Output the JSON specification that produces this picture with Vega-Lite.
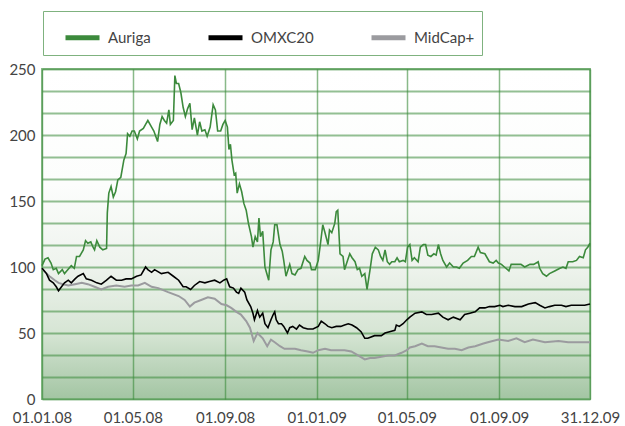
{
"$schema": "https://vega.github.io/schema/vega-lite/v6.json",
"width": 548, "height": 330,
"autosize": "none",
"padding": {"left": 42, "top": 69, "right": 35, "bottom": 27},
"background": "white",
"view": {"fill": {"gradient": "linear", "x1": 0, "y1": 0, "x2": 0, "y2": 1, "stops": [{"offset": 0, "color": "#ffffff"}, {"offset": 0.35, "color": "#fcfdfc"}, {"offset": 0.6, "color": "#eef3ed"}, {"offset": 0.8, "color": "#d6e5d4"}, {"offset": 1, "color": "#a3c5a3"}]}, "stroke": "#8cbc8c", "strokeWidth": 2},
"config": {"font": "Lato"},
"datasets": {
"auriga": [
{"d":"2008-01-01","v":101},{"d":"2008-01-05","v":106},{"d":"2008-01-09","v":107},{"d":"2008-01-13","v":103},{"d":"2008-01-16","v":98},{"d":"2008-01-20","v":99},{"d":"2008-01-23","v":95},{"d":"2008-01-28","v":98},{"d":"2008-01-31","v":95},{"d":"2008-02-06","v":99},{"d":"2008-02-09","v":101},{"d":"2008-02-13","v":99},{"d":"2008-02-16","v":108},{"d":"2008-02-20","v":108},{"d":"2008-02-25","v":113},{"d":"2008-02-28","v":120},{"d":"2008-03-02","v":118},{"d":"2008-03-06","v":119},{"d":"2008-03-09","v":115},{"d":"2008-03-11","v":113},{"d":"2008-03-14","v":120},{"d":"2008-03-18","v":115},{"d":"2008-03-22","v":113},{"d":"2008-03-27","v":114},{"d":"2008-03-28","v":141},{"d":"2008-03-30","v":156},{"d":"2008-04-02","v":161},{"d":"2008-04-05","v":153},{"d":"2008-04-08","v":157},{"d":"2008-04-11","v":166},{"d":"2008-04-15","v":168},{"d":"2008-04-19","v":181},{"d":"2008-04-22","v":186},{"d":"2008-04-24","v":201},{"d":"2008-04-27","v":199},{"d":"2008-04-30","v":203},{"d":"2008-05-03","v":203},{"d":"2008-05-07","v":197},{"d":"2008-05-10","v":203},{"d":"2008-05-15","v":205},{"d":"2008-05-18","v":208},{"d":"2008-05-21","v":211},{"d":"2008-05-26","v":206},{"d":"2008-05-29","v":203},{"d":"2008-06-03","v":195},{"d":"2008-06-06","v":208},{"d":"2008-06-09","v":214},{"d":"2008-06-12","v":211},{"d":"2008-06-15","v":209},{"d":"2008-06-18","v":219},{"d":"2008-06-20","v":208},{"d":"2008-06-24","v":211},{"d":"2008-06-26","v":245},{"d":"2008-06-28","v":239},{"d":"2008-07-01","v":239},{"d":"2008-07-04","v":232},{"d":"2008-07-07","v":221},{"d":"2008-07-10","v":214},{"d":"2008-07-13","v":220},{"d":"2008-07-16","v":224},{"d":"2008-07-19","v":204},{"d":"2008-07-22","v":213},{"d":"2008-07-26","v":200},{"d":"2008-07-29","v":210},{"d":"2008-08-01","v":203},{"d":"2008-08-05","v":204},{"d":"2008-08-08","v":199},{"d":"2008-08-12","v":206},{"d":"2008-08-16","v":223},{"d":"2008-08-19","v":219},{"d":"2008-08-22","v":203},{"d":"2008-08-26","v":203},{"d":"2008-08-29","v":208},{"d":"2008-09-01","v":211},{"d":"2008-09-04","v":206},{"d":"2008-09-06","v":189},{"d":"2008-09-08","v":193},{"d":"2008-09-10","v":181},{"d":"2008-09-13","v":170},{"d":"2008-09-15","v":171},{"d":"2008-09-17","v":156},{"d":"2008-09-20","v":163},{"d":"2008-09-23","v":157},{"d":"2008-09-26","v":148},{"d":"2008-09-29","v":143},{"d":"2008-10-02","v":133},{"d":"2008-10-06","v":123},{"d":"2008-10-08","v":115},{"d":"2008-10-11","v":123},{"d":"2008-10-14","v":119},{"d":"2008-10-16","v":137},{"d":"2008-10-18","v":123},{"d":"2008-10-21","v":127},{"d":"2008-10-24","v":100},{"d":"2008-10-29","v":90},{"d":"2008-11-01","v":113},{"d":"2008-11-04","v":119},{"d":"2008-11-06","v":132},{"d":"2008-11-09","v":132},{"d":"2008-11-13","v":117},{"d":"2008-11-16","v":112},{"d":"2008-11-18","v":105},{"d":"2008-11-21","v":93},{"d":"2008-11-26","v":102},{"d":"2008-11-29","v":95},{"d":"2008-12-03","v":94},{"d":"2008-12-07","v":98},{"d":"2008-12-11","v":99},{"d":"2008-12-16","v":108},{"d":"2008-12-19","v":105},{"d":"2008-12-23","v":103},{"d":"2008-12-25","v":98},{"d":"2008-12-30","v":98},{"d":"2009-01-03","v":105},{"d":"2009-01-06","v":118},{"d":"2009-01-09","v":132},{"d":"2009-01-12","v":126},{"d":"2009-01-16","v":117},{"d":"2009-01-18","v":128},{"d":"2009-01-21","v":126},{"d":"2009-01-25","v":133},{"d":"2009-01-27","v":142},{"d":"2009-01-29","v":143},{"d":"2009-02-01","v":110},{"d":"2009-02-05","v":108},{"d":"2009-02-07","v":98},{"d":"2009-02-11","v":105},{"d":"2009-02-14","v":110},{"d":"2009-02-17","v":107},{"d":"2009-02-21","v":104},{"d":"2009-02-24","v":98},{"d":"2009-02-27","v":99},{"d":"2009-03-02","v":93},{"d":"2009-03-06","v":95},{"d":"2009-03-09","v":83},{"d":"2009-03-13","v":98},{"d":"2009-03-16","v":110},{"d":"2009-03-20","v":115},{"d":"2009-03-24","v":113},{"d":"2009-03-27","v":108},{"d":"2009-03-30","v":105},{"d":"2009-04-02","v":113},{"d":"2009-04-05","v":104},{"d":"2009-04-08","v":102},{"d":"2009-04-11","v":104},{"d":"2009-04-15","v":104},{"d":"2009-04-18","v":107},{"d":"2009-04-21","v":104},{"d":"2009-04-26","v":105},{"d":"2009-04-29","v":104},{"d":"2009-05-02","v":115},{"d":"2009-05-05","v":117},{"d":"2009-05-08","v":105},{"d":"2009-05-11","v":107},{"d":"2009-05-16","v":104},{"d":"2009-05-19","v":115},{"d":"2009-05-23","v":117},{"d":"2009-05-26","v":117},{"d":"2009-05-29","v":109},{"d":"2009-06-02","v":108},{"d":"2009-06-06","v":110},{"d":"2009-06-09","v":109},{"d":"2009-06-12","v":117},{"d":"2009-06-15","v":110},{"d":"2009-06-18","v":105},{"d":"2009-06-23","v":100},{"d":"2009-06-27","v":103},{"d":"2009-07-02","v":100},{"d":"2009-07-06","v":100},{"d":"2009-07-10","v":99},{"d":"2009-07-15","v":103},{"d":"2009-07-21","v":105},{"d":"2009-07-26","v":108},{"d":"2009-07-30","v":108},{"d":"2009-08-04","v":115},{"d":"2009-08-07","v":111},{"d":"2009-08-13","v":110},{"d":"2009-08-19","v":104},{"d":"2009-08-24","v":103},{"d":"2009-08-28","v":105},{"d":"2009-08-31","v":103},{"d":"2009-09-04","v":102},{"d":"2009-09-08","v":100},{"d":"2009-09-14","v":97},{"d":"2009-09-17","v":102},{"d":"2009-09-24","v":102},{"d":"2009-09-30","v":102},{"d":"2009-10-05","v":100},{"d":"2009-10-12","v":102},{"d":"2009-10-17","v":102},{"d":"2009-10-23","v":104},{"d":"2009-10-25","v":99},{"d":"2009-10-29","v":95},{"d":"2009-11-03","v":93},{"d":"2009-11-07","v":95},{"d":"2009-11-14","v":97},{"d":"2009-11-21","v":99},{"d":"2009-11-25","v":100},{"d":"2009-11-29","v":99},{"d":"2009-12-02","v":104},{"d":"2009-12-08","v":104},{"d":"2009-12-13","v":105},{"d":"2009-12-17","v":108},{"d":"2009-12-22","v":107},{"d":"2009-12-25","v":113},{"d":"2009-12-28","v":115},{"d":"2009-12-31","v":118}
],
"omx": [
{"d":"2008-01-01","v":99},{"d":"2008-01-07","v":95},{"d":"2008-01-11","v":90},{"d":"2008-01-16","v":88},{"d":"2008-01-20","v":85},{"d":"2008-01-23","v":82},{"d":"2008-01-27","v":85},{"d":"2008-01-31","v":88},{"d":"2008-02-05","v":90},{"d":"2008-02-09","v":88},{"d":"2008-02-14","v":91},{"d":"2008-02-18","v":93},{"d":"2008-02-25","v":95},{"d":"2008-02-29","v":91},{"d":"2008-03-07","v":90},{"d":"2008-03-14","v":88},{"d":"2008-03-20","v":87},{"d":"2008-03-27","v":90},{"d":"2008-04-02","v":93},{"d":"2008-04-09","v":90},{"d":"2008-04-16","v":90},{"d":"2008-04-22","v":91},{"d":"2008-04-29","v":91},{"d":"2008-05-06","v":93},{"d":"2008-05-12","v":94},{"d":"2008-05-18","v":100},{"d":"2008-05-21","v":98},{"d":"2008-05-26","v":96},{"d":"2008-05-30","v":98},{"d":"2008-06-08","v":95},{"d":"2008-06-17","v":96},{"d":"2008-06-24","v":93},{"d":"2008-07-01","v":90},{"d":"2008-07-07","v":85},{"d":"2008-07-11","v":85},{"d":"2008-07-17","v":83},{"d":"2008-07-22","v":86},{"d":"2008-07-29","v":89},{"d":"2008-08-05","v":88},{"d":"2008-08-11","v":89},{"d":"2008-08-18","v":90},{"d":"2008-08-25","v":88},{"d":"2008-08-30","v":90},{"d":"2008-09-03","v":91},{"d":"2008-09-07","v":85},{"d":"2008-09-12","v":84},{"d":"2008-09-16","v":81},{"d":"2008-09-19","v":80},{"d":"2008-09-22","v":84},{"d":"2008-09-27","v":81},{"d":"2008-09-30","v":75},{"d":"2008-10-05","v":70},{"d":"2008-10-08","v":65},{"d":"2008-10-10","v":60},{"d":"2008-10-14","v":67},{"d":"2008-10-17","v":62},{"d":"2008-10-21","v":65},{"d":"2008-10-24","v":57},{"d":"2008-10-28","v":54},{"d":"2008-11-01","v":60},{"d":"2008-11-04","v":64},{"d":"2008-11-06","v":66},{"d":"2008-11-08","v":60},{"d":"2008-11-11","v":57},{"d":"2008-11-15","v":57},{"d":"2008-11-18","v":55},{"d":"2008-11-23","v":50},{"d":"2008-11-26","v":54},{"d":"2008-11-30","v":55},{"d":"2008-12-05","v":53},{"d":"2008-12-09","v":56},{"d":"2008-12-14","v":54},{"d":"2008-12-20","v":53},{"d":"2008-12-27","v":53},{"d":"2009-01-03","v":55},{"d":"2009-01-07","v":59},{"d":"2009-01-12","v":57},{"d":"2009-01-16","v":55},{"d":"2009-01-21","v":54},{"d":"2009-01-27","v":55},{"d":"2009-02-02","v":55},{"d":"2009-02-07","v":56},{"d":"2009-02-12","v":57},{"d":"2009-02-17","v":56},{"d":"2009-02-23","v":54},{"d":"2009-03-01","v":51},{"d":"2009-03-06","v":46},{"d":"2009-03-10","v":46},{"d":"2009-03-19","v":48},{"d":"2009-03-28","v":48},{"d":"2009-04-02","v":50},{"d":"2009-04-08","v":51},{"d":"2009-04-15","v":52},{"d":"2009-04-17","v":56},{"d":"2009-04-21","v":55},{"d":"2009-04-26","v":57},{"d":"2009-05-01","v":60},{"d":"2009-05-05","v":62},{"d":"2009-05-12","v":65},{"d":"2009-05-21","v":66},{"d":"2009-05-27","v":64},{"d":"2009-06-03","v":64},{"d":"2009-06-12","v":65},{"d":"2009-06-18","v":62},{"d":"2009-06-25","v":60},{"d":"2009-07-02","v":62},{"d":"2009-07-11","v":60},{"d":"2009-07-17","v":64},{"d":"2009-07-24","v":65},{"d":"2009-07-31","v":66},{"d":"2009-08-06","v":69},{"d":"2009-08-13","v":69},{"d":"2009-08-19","v":70},{"d":"2009-08-26","v":70},{"d":"2009-09-02","v":71},{"d":"2009-09-06","v":70},{"d":"2009-09-13","v":71},{"d":"2009-09-22","v":70},{"d":"2009-10-01","v":70},{"d":"2009-10-10","v":72},{"d":"2009-10-19","v":73},{"d":"2009-10-25","v":71},{"d":"2009-11-01","v":69},{"d":"2009-11-07","v":70},{"d":"2009-11-14","v":71},{"d":"2009-11-23","v":71},{"d":"2009-11-29","v":70},{"d":"2009-12-06","v":71},{"d":"2009-12-15","v":71},{"d":"2009-12-24","v":71},{"d":"2009-12-31","v":72}
],
"midcap": [
{"d":"2008-01-01","v":99},{"d":"2008-01-07","v":95},{"d":"2008-01-11","v":93},{"d":"2008-01-18","v":90},{"d":"2008-01-23","v":88},{"d":"2008-01-29","v":87},{"d":"2008-02-05","v":86},{"d":"2008-02-14","v":87},{"d":"2008-02-23","v":88},{"d":"2008-03-02","v":87},{"d":"2008-03-11","v":85},{"d":"2008-03-20","v":83},{"d":"2008-03-29","v":85},{"d":"2008-04-09","v":86},{"d":"2008-04-20","v":85},{"d":"2008-04-29","v":86},{"d":"2008-05-08","v":86},{"d":"2008-05-17","v":88},{"d":"2008-05-26","v":85},{"d":"2008-06-04","v":84},{"d":"2008-06-17","v":81},{"d":"2008-07-01","v":78},{"d":"2008-07-09","v":75},{"d":"2008-07-16","v":70},{"d":"2008-07-22","v":73},{"d":"2008-07-31","v":75},{"d":"2008-08-09","v":77},{"d":"2008-08-18","v":76},{"d":"2008-08-27","v":72},{"d":"2008-09-03","v":71},{"d":"2008-09-09","v":69},{"d":"2008-09-16","v":66},{"d":"2008-09-22","v":64},{"d":"2008-09-29","v":59},{"d":"2008-10-04","v":54},{"d":"2008-10-09","v":44},{"d":"2008-10-14","v":50},{"d":"2008-10-21","v":46},{"d":"2008-10-27","v":40},{"d":"2008-11-01","v":45},{"d":"2008-11-06","v":43},{"d":"2008-11-13","v":40},{"d":"2008-11-19","v":38},{"d":"2008-11-26","v":38},{"d":"2008-12-03","v":38},{"d":"2008-12-11","v":37},{"d":"2008-12-20","v":36},{"d":"2008-12-27","v":35},{"d":"2009-01-03","v":37},{"d":"2009-01-12","v":38},{"d":"2009-01-20","v":37},{"d":"2009-01-29","v":37},{"d":"2009-02-07","v":37},{"d":"2009-02-16","v":36},{"d":"2009-02-25","v":33},{"d":"2009-03-06","v":30},{"d":"2009-03-13","v":31},{"d":"2009-03-19","v":31},{"d":"2009-03-28","v":32},{"d":"2009-04-06","v":33},{"d":"2009-04-15","v":33},{"d":"2009-04-24","v":35},{"d":"2009-05-01","v":37},{"d":"2009-05-05","v":39},{"d":"2009-05-12","v":40},{"d":"2009-05-21","v":42},{"d":"2009-05-29","v":40},{"d":"2009-06-07","v":40},{"d":"2009-06-16","v":39},{"d":"2009-06-25","v":38},{"d":"2009-07-04","v":38},{"d":"2009-07-13","v":37},{"d":"2009-07-22","v":39},{"d":"2009-07-31","v":40},{"d":"2009-08-11","v":42},{"d":"2009-08-17","v":43},{"d":"2009-08-31","v":45},{"d":"2009-09-13","v":44},{"d":"2009-09-24","v":46},{"d":"2009-10-05","v":43},{"d":"2009-10-16","v":45},{"d":"2009-11-01","v":43},{"d":"2009-11-19","v":44},{"d":"2009-12-02","v":43},{"d":"2009-12-15","v":43},{"d":"2009-12-31","v":43}
]
},
"encoding": {
"x": {"field": "d", "type": "temporal", "title": null,
 "scale": {"type": "utc", "domain": [{"year": 2008, "month": 1, "date": 1, "utc": true}, {"year": 2009, "month": 12, "date": 31, "utc": true}]},
 "axis": {"values": [{"year": 2008, "month": 1, "date": 1, "utc": true}, {"year": 2008, "month": 5, "date": 1, "utc": true}, {"year": 2008, "month": 9, "date": 1, "utc": true}, {"year": 2009, "month": 1, "date": 1, "utc": true}, {"year": 2009, "month": 5, "date": 1, "utc": true}, {"year": 2009, "month": 9, "date": 1, "utc": true}, {"year": 2009, "month": 12, "date": 31, "utc": true}],
  "labelExpr": "utcFormat(datum.value, '%d.%m.%y')", "grid": true, "gridColor": "#3a8a3a", "gridOpacity": 0.6, "gridWidth": 1.5, "ticks": false, "domain": false,
  "labelFont": "Lato", "labelFontSize": 15, "labelColor": "#444444", "labelPadding": 11, "labelOverlap": false, "labelBound": false, "labelFlush": false}},
"y": {"field": "v", "type": "quantitative", "title": null,
 "scale": {"domain": [0, 250], "nice": false, "zero": true},
 "axis": {"values": [0, 16.6667, 33.3333, 50, 66.6667, 83.3333, 100, 116.6667, 133.3333, 150, 166.6667, 183.3333, 200, 216.6667, 233.3333, 250],
  "labelExpr": "datum.value % 50 == 0 ? datum.label : ''", "grid": true, "gridColor": "#3a8a3a", "gridOpacity": 0.55, "gridWidth": 2, "ticks": false, "domain": false,
  "labelFont": "Lato", "labelFontSize": 15, "labelColor": "#444444", "labelPadding": 7}}
},
"layer": [
{"data": {"name": "midcap"}, "mark": {"type": "line", "strokeWidth": 2}, "encoding": {"color": {"datum": "MidCap+"}}},
{"data": {"name": "omx"}, "mark": {"type": "line", "strokeWidth": 1.6}, "encoding": {"color": {"datum": "OMXC20"}}},
{"data": {"name": "auriga"}, "mark": {"type": "line", "strokeWidth": 1.6}, "encoding": {"color": {"datum": "Auriga",
 "scale": {"domain": ["Auriga", "OMXC20", "MidCap+"], "range": ["#3c8a3c", "#000000", "#9b9b9f"]},
 "legend": {"orient": "none", "legendX": 1, "legendY": -58, "direction": "horizontal", "title": null, "symbolType": "stroke", "symbolSize": 1156, "symbolStrokeWidth": 5, "labelFont": "Lato", "labelFontSize": 15, "labelColor": "#444444", "padding": 7, "strokeColor": "#7fb27f", "columnPadding": 42, "labelOffset": 6, "symbolOffset": 13}}}}
]
}
